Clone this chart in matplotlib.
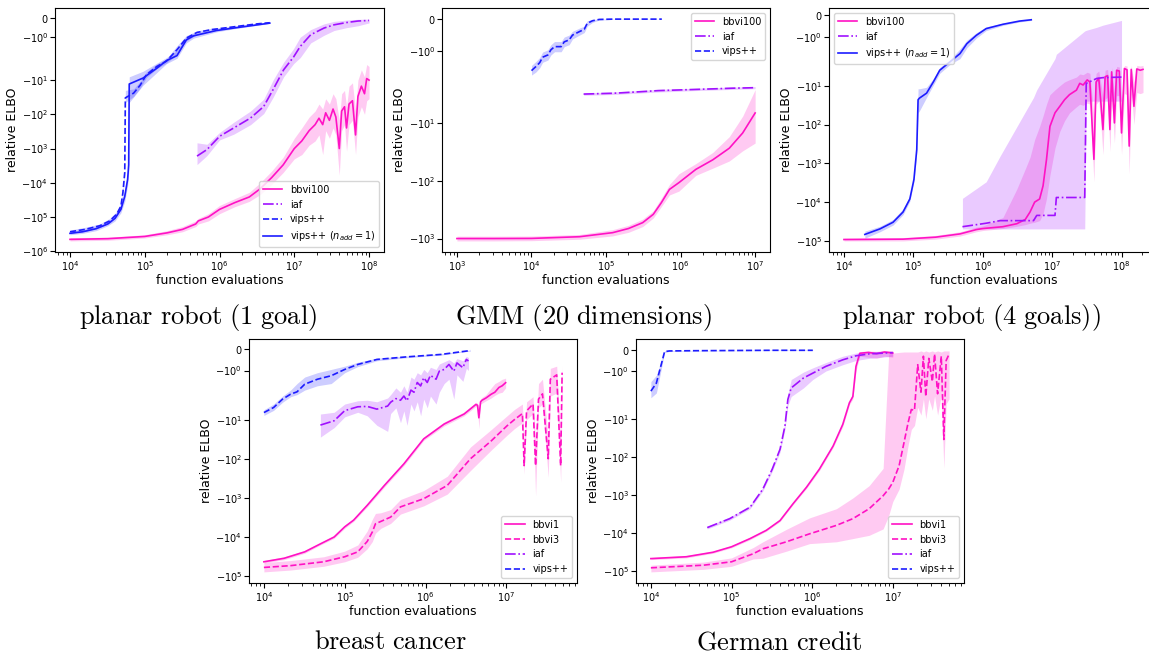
import matplotlib
matplotlib.use("Agg")
import matplotlib.pyplot as plt

PINK = "#ff12c4"
PURPLE = "#a010ff"
BLUE = "#1c1cff"

# ---------------- planar robot (1 goal) ----------------
r1_bbvi_x = [1.0e4, 3.2e4, 1.0e5, 2.0e5, 3.2e5, 4.8e5, 5.2e5, 7.1e5, 1.0e6, 1.6e6,
             2.5e6, 3.5e6, 5.0e6, 7.1e6, 1.0e7, 1.26e7, 1.58e7, 1.9e7, 2.14e7, 2.4e7,
             2.63e7, 2.95e7, 3.3e7, 3.6e7, 4.0e7, 4.3e7, 4.7e7, 5.0e7, 5.4e7, 6.0e7,
             6.6e7, 7.1e7, 7.9e7, 8.7e7, 9.3e7, 1.0e8]
r1_bbvi_mean = [-4.5e5, -4.3e5, -3.7e5, -2.9e5, -2.3e5, -1.6e5, -1.3e5, -1.0e5, -6.0e4, -3.8e4,
                -2.6e4, -1.5e4, -7.0e3, -3.0e3, -1.0e3, -600, -300, -200, -130, -200,
                -90, -150, -70, -120, -1000, -80, -60, -250, -50, -40,
                -400, -30, -15, -25, -9, -10]
r1_bbvi_lo = [-5.0e5, -4.8e5, -4.1e5, -3.3e5, -2.7e5, -1.9e5, -1.6e5, -1.3e5, -8.0e4, -5.0e4,
              -3.5e4, -2.2e4, -1.1e4, -5.0e3, -2.0e3, -1.5e3, -800, -600, -400, -1500,
              -300, -500, -250, -400, -6000, -300, -200, -1200, -200, -150,
              -1500, -120, -60, -100, -40, -35]
r1_bbvi_hi = [-4.0e5, -3.9e5, -3.3e5, -2.5e5, -1.9e5, -1.3e5, -1.1e5, -8.0e4, -4.6e4, -2.9e4,
              -1.9e4, -1.0e4, -4.5e3, -1.8e3, -500, -250, -120, -80, -50, -70,
              -35, -50, -25, -35, -150, -25, -20, -60, -15, -12,
              -80, -10, -5, -8, -3.5, -4]

r1_iaf_x = [5.0e5, 6.8e5, 1.0e6, 1.55e6, 2.6e6, 3.9e6, 5.2e6, 7.2e6, 9.8e6, 1.2e7,
            1.66e7, 2.5e7, 3.4e7, 5.0e7, 7.1e7, 1.0e8]
r1_iaf_mean = [-1660, -1070, -440, -250, -128, -59, -19, -5, -2.1, -1.49,
               -0.87, -0.52, -0.35, -0.23, -0.15, -0.12]
r1_iaf_lo = [-2950, -1600, -560, -380, -200, -95, -32, -8, -3.3, -2.2,
             -1.3, -0.9, -0.65, -0.5, -0.4, -0.25]
r1_iaf_hi = [-680, -750, -340, -170, -80, -36, -10, -3, -1.6, -1.0,
             -0.6, -0.3, -0.17, -0.1, -0.06, -0.05]

r1_vips_x = [1.0e4, 1.6e4, 2.5e4, 3.4e4, 4.2e4, 4.8e4, 5.1e4, 5.4e4, 5.5e4, 7.1e4,
             8.7e4, 1.05e5, 1.45e5, 1.95e5, 2.7e5, 3.6e5, 5.0e5, 7.9e5, 1.26e6, 2.0e6,
             3.2e6, 4.7e6]
r1_vips_mean = [-2.7e5, -2.3e5, -1.8e5, -1.3e5, -8.3e4, -4.8e4, -1.95e4, -5e3, -33, -24,
                -14, -7, -4, -2.8, -1.66, -1.05, -0.75, -0.6, -0.5, -0.4,
                -0.3, -0.24]
r1_vips_lo = [-3.0e5, -2.6e5, -2.0e5, -1.5e5, -9.5e4, -5.5e4, -2.3e4, -6e3, -45, -30,
              -17, -8.5, -4.6, -3.2, -1.9, -1.2, -0.85, -0.68, -0.56, -0.45,
              -0.34, -0.27]
r1_vips_hi = [-2.4e5, -2.0e5, -1.6e5, -1.1e5, -7.0e4, -4.0e4, -1.6e4, -4e3, -20, -18,
              -11, -5.8, -3.4, -2.4, -1.45, -0.92, -0.67, -0.53, -0.45, -0.36,
              -0.27, -0.21]

r1_vips1_x = [1.0e4, 1.48e4, 2.24e4, 3.2e4, 4.0e4, 4.8e4, 5.4e4, 5.9e4, 6.1e4, 6.2e4,
              9.5e4, 1.45e5, 1.95e5, 2.7e5, 3.6e5, 4.5e5, 9.1e5, 1.55e6, 2.6e6, 4.7e6]
r1_vips1_mean = [-3.0e5, -2.7e5, -2.2e5, -1.6e5, -1.1e5, -6e4, -2.5e4, -8e3, -3e3, -13,
                 -8.7, -4.5, -2.7, -1.97, -1.14, -0.93, -0.65, -0.52, -0.4, -0.26]
r1_vips1_lo = [-3.3e5, -3.0e5, -2.5e5, -1.8e5, -1.3e5, -7.5e4, -3.5e4, -1.2e4, -5e3, -45,
               -14, -6, -3.3, -2.3, -1.3, -1.05, -0.72, -0.56, -0.43, -0.28]
r1_vips1_hi = [-2.7e5, -2.4e5, -1.9e5, -1.4e5, -9e4, -4.5e4, -1.7e4, -5e3, -1.5e3, -8,
               -5.5, -3.2, -2.2, -1.7, -0.95, -0.8, -0.58, -0.48, -0.37, -0.24]

# ---------------- GMM (20 dimensions) ----------------
gmm_bbvi_x = [1.0e3, 3.2e3, 1.0e4, 4.4e4, 1.23e5, 2.0e5, 3.1e5, 4.3e5, 5.5e5, 7.1e5,
              9.5e5, 1.6e6, 2.7e6, 4.5e6, 6.8e6, 1.0e7]
gmm_bbvi_mean = [-1000, -1000, -995, -930, -790, -670, -530, -380, -240, -140,
                 -107, -63, -43, -27, -14.7, -6.6]
gmm_bbvi_lo = [-1100, -1100, -1090, -1030, -900, -780, -620, -440, -280, -175,
               -150, -80, -60, -45, -30, -22]
gmm_bbvi_hi = [-910, -910, -905, -850, -700, -590, -460, -330, -200, -115,
               -75, -50, -32, -17, -7.5, -2.6]

gmm_iaf_x = [5.0e4, 7.9e4, 1.26e5, 2.0e5, 3.2e5, 5.0e5, 7.9e5, 1.26e6, 2.0e6, 3.2e6,
             5.0e6, 7.9e6, 1.0e7]
gmm_iaf_mean = [-3.1, -3.05, -3.0, -2.9, -2.8, -2.7, -2.65, -2.6, -2.55, -2.5, -2.45, -2.42, -2.4]
gmm_iaf_lo = [-3.25, -3.2, -3.15, -3.05, -2.95, -2.85, -2.8, -2.72, -2.67, -2.62, -2.57, -2.53, -2.5]
gmm_iaf_hi = [-2.95, -2.9, -2.85, -2.75, -2.66, -2.57, -2.52, -2.48, -2.43, -2.39, -2.34, -2.31, -2.3]

gmm_vips_x = [1.0e4, 1.15e4, 1.29e4, 1.41e4, 1.66e4, 1.82e4, 2.04e4, 2.5e4, 2.75e4, 3.2e4,
              3.55e4, 4.4e4, 5.1e4, 5.6e4, 6.6e4, 8.1e4, 1.23e5, 5.6e5]
gmm_vips_mean = [-1.61, -1.48, -1.36, -1.19, -1.12, -0.96, -0.86, -0.86, -0.71, -0.65,
                 -0.50, -0.39, -0.32, -0.13, -0.05, -0.01, 0, 0]
gmm_vips_lo = [-1.75, -1.65, -1.52, -1.35, -1.28, -1.12, -1.02, -1.02, -0.86, -0.8,
               -0.62, -0.5, -0.42, -0.22, -0.1, -0.03, -0.01, -0.005]
gmm_vips_hi = [-1.45, -1.32, -1.2, -1.03, -0.96, -0.8, -0.7, -0.7, -0.56, -0.5,
               -0.38, -0.28, -0.22, -0.05, -0.01, 0, 0, 0]

# ---------------- planar robot (4 goals) ----------------
r4_bbvi_x = [1.0e4, 7.1e4, 2.1e5, 4.7e5, 8.1e5, 1.0e6, 1.95e6, 3.1e6, 4.1e6, 4.8e6,
             5.6e6, 6.6e6, 7.4e6, 8.3e6, 9.3e6, 1.1e7, 1.29e7, 1.51e7, 1.78e7, 2.24e7,
             2.5e7, 2.8e7, 3.2e7, 3.5e7, 4.0e7, 4.3e7, 4.7e7, 5.0e7, 5.4e7, 5.8e7,
             6.3e7, 6.8e7, 7.2e7, 7.9e7, 8.5e7, 9.3e7, 1.0e8, 1.1e8, 1.2e8, 1.29e8,
             1.38e8, 1.51e8, 1.66e8, 1.86e8, 2.04e8]
r4_bbvi_mean = [-9.2e4, -9.0e4, -8.0e4, -6.6e4, -5.1e4, -4.8e4, -4.3e4, -3.6e4, -2.8e4, -1.8e4,
                -1.0e4, -8.3e3, -3.8e3, -790, -112, -50, -34, -23, -17, -13,
                -8.7, -9.6, -7.1, -8, -790, -8, -6.5, -23, -135, -5.9,
                -5.5, -135, -4.4, -91, -4.0, -4.2, -165, -3.6, -3.9, -360,
                -3.8, -34, -3.7, -4.0, -3.8]
r4_bbvi_lo = [-1.0e5, -1.0e5, -9e4, -7.5e4, -5.8e4, -5.4e4, -4.8e4, -4.2e4, -3.8e4, -3.5e4,
              -3.3e4, -3.0e4, -2.0e4, -8e3, -2e3, -400, -150, -80, -50, -35,
              -30, -32, -28, -30, -3e3, -30, -25, -80, -600, -22,
              -20, -500, -20, -300, -18, -18, -600, -16, -17, -1.9e3,
              -16, -100, -15, -16, -15]
r4_bbvi_hi = [-8.5e4, -8.2e4, -7.2e4, -5.8e4, -4.4e4, -4.1e4, -2.5e4, -4.6e3, -1.4e3, -700,
              -245, -112, -60, -30, -17, -12.8, -10, -8, -7, -6,
              -5, -5.2, -4.5, -4.8, -60, -4.8, -4.2, -8, -20, -4,
              -3.8, -20, -3.4, -15, -3.2, -3.3, -25, -3, -3.1, -40,
              -3, -8, -3, -3.1, -3]

r4_iaf_x = [5.1e5, 1.12e6, 1.78e6, 5.4e6, 6.0e6, 1.1e7, 1.15e7, 2.95e7, 3.1e7, 4.4e7, 5.4e7, 1.0e8]
r4_iaf_mean = [-4.3e4, -3.5e4, -3.0e4, -3.0e4, -2.2e4, -2.2e4, -7.6e3, -7.6e3, -8.7, -6.5, -6.2, -6.0]
r4_iaf_lo = [-4.9e4, -4.9e4, -4.9e4, -4.9e4, -4.9e4, -4.9e4, -4.9e4, -4.9e4, -25, -25, -25, -25]
r4_iaf_hi = [-8e3, -3e3, -650, -20, -12.8, -2.0, -1.8, -0.72, -0.69, -0.55, -0.45, -0.23]

r4_vips1_x = [2.0e4, 3.3e4, 5.1e4, 7.1e4, 8.9e4, 1.02e5, 1.12e5, 1.17e5, 1.22e5, 1.55e5,
              1.95e5, 2.4e5, 3.4e5, 4.7e5, 5.9e5, 8.1e5, 1.12e6, 1.95e6, 3.4e6, 5.0e6]
r4_vips1_mean = [-6.8e4, -4.9e4, -3.3e4, -1.8e4, -8.3e3, -2.6e3, -440, -23, -21, -15.6,
                 -7.9, -4, -2.4, -1.77, -1.31, -0.92, -0.61, -0.41, -0.26, -0.2]
r4_vips1_lo = [-8.5e4, -5.8e4, -3.9e4, -2.1e4, -9.5e3, -3.0e3, -520, -50, -45, -20,
               -9.5, -4.8, -2.8, -2.0, -1.5, -1.05, -0.7, -0.46, -0.3, -0.23]
r4_vips1_hi = [-5.6e4, -4.2e4, -2.8e4, -1.5e4, -7.0e3, -2.2e3, -370, -12, -12, -11,
               -6.5, -3.4, -2.1, -1.55, -1.15, -0.8, -0.53, -0.36, -0.22, -0.17]

# ---------------- breast cancer ----------------
bc_bbvi1_x = [1.0e4, 1.78e4, 3.2e4, 5.0e4, 7.4e4, 1.0e5, 1.29e5, 1.9e5, 3.1e5, 5.4e5,
              9.5e5, 1.7e6, 3.0e6, 4.2e6, 4.4e6, 4.57e6, 4.8e6, 5.0e6, 5.6e6, 6.5e6,
              7.2e6, 8.1e6, 8.9e6, 9.8e6]
bc_bbvi1_mean = [-4.3e4, -3.5e4, -2.4e4, -1.5e4, -1.0e4, -5.5e3, -3.7e3, -1.55e3, -480, -135,
                 -31, -13, -7.2, -4.1, -4.3, -9, -3.5, -3.2, -2.8, -2.24,
                 -2.0, -1.78, -1.7, -1.56]
bc_bbvi1_lo = [-4.6e4, -3.8e4, -2.6e4, -1.6e4, -1.08e4, -6e3, -4e3, -1.7e3, -530, -150,
               -34, -14.5, -8, -4.6, -5, -17, -4, -3.8, -3.3, -2.8,
               -2.4, -2.1, -2.0, -1.8]
bc_bbvi1_hi = [-4.0e4, -3.2e4, -2.2e4, -1.4e4, -9.2e3, -5e3, -3.4e3, -1.4e3, -430, -120,
               -28, -11.5, -6.4, -3.6, -3.8, -5, -3.0, -2.7, -2.3, -1.8,
               -1.6, -1.5, -1.4, -1.35]

bc_bbvi3_x = [1.0e4, 2.14e4, 5.5e4, 1.0e5, 1.45e5, 1.9e5, 2.2e5, 2.4e5, 2.8e5, 3.7e5,
              4.9e5, 9.5e5, 1.86e6, 3.6e6, 6.5e6, 1.02e7, 1.26e7, 1.58e7, 1.66e7, 1.78e7,
              2.14e7, 2.3e7, 2.5e7, 2.8e7, 3.3e7, 3.5e7, 4.2e7, 4.7e7, 4.9e7]
bc_bbvi3_mean = [-6.0e4, -5.4e4, -4.3e4, -3.2e4, -2.4e4, -1.3e4, -7.4e3, -4.6e3, -4.0e3, -3.1e3,
                 -1.7e3, -1.05e3, -480, -100, -35, -14.4, -10, -7, -150, -6,
                 -4, -150, -3, -2.2, -100, -1.4, -1.2, -150, -1.1]
bc_bbvi3_lo = [-7.8e4, -7.0e4, -5.6e4, -4.3e4, -3.3e4, -2.0e4, -1.3e4, -8e3, -6e3, -4.5e3,
               -2.6e3, -1.6e3, -800, -200, -60, -25, -17, -12, -250, -10,
               -7, -900, -5, -4, -300, -2.5, -2.1, -400, -2.0]
bc_bbvi3_hi = [-4.5e4, -4.0e4, -3.2e4, -2.3e4, -1.6e4, -7e3, -3.5e3, -2.5e3, -2.4e3, -2.0e3,
               -1.1e3, -650, -280, -50, -18, -8, -5.5, -4, -40, -3.5,
               -2.6, -40, -1.6, -1.4, -30, -0.9, -0.8, -30, -0.75]

bc_iaf_x = [5.0e4, 7.4e4, 1.0e5, 1.45e5, 1.9e5, 2.5e5, 3.4e5, 3.7e5, 4.3e5, 4.9e5,
            5.4e5, 5.9e5, 6.6e5, 7.2e5, 7.9e5, 8.7e5, 9.5e5, 1.05e6, 1.15e6, 1.35e6,
            1.48e6, 1.7e6, 1.95e6, 2.24e6, 2.45e6, 2.9e6, 3.2e6, 3.4e6]
bc_iaf_mean = [-13.8, -10.7, -5.9, -4.7, -4.6, -5.4, -4.5, -3.6, -2.9, -3.2,
               -2.5, -3.3, -1.9, -2.0, -1.55, -1.71, -1.33, -1.55, -1.22, -1.4,
               -1.03, -0.95, -0.72, -1.03, -0.65, -0.87, -0.49, -0.56]
bc_iaf_lo = [-28, -16, -8.5, -6.5, -8, -14, -20, -7, -5, -12,
             -6, -14, -4, -6, -3.5, -8, -3, -5, -2.5, -4,
             -2, -1.6, -1.4, -3, -1.2, -1.5, -0.9, -1.0]
bc_iaf_hi = [-7.2, -6.5, -4, -3.3, -3.2, -3.5, -2.8, -2.3, -1.8, -2.0,
             -1.7, -2.0, -1.3, -1.4, -1.1, -1.2, -0.95, -1.1, -0.85, -0.95,
             -0.7, -0.6, -0.5, -0.65, -0.45, -0.55, -0.35, -0.4]

bc_vips_x = [1.0e4, 1.32e4, 1.7e4, 2.14e4, 2.57e4, 3.2e4, 4.6e4, 6.8e4, 1.0e5, 1.45e5,
             2.5e5, 5.9e5, 1.55e6, 3.6e6]
bc_vips_mean = [-6.6, -4.9, -3.0, -2.24, -1.98, -1.63, -1.4, -1.24, -0.95, -0.72,
                -0.49, -0.37, -0.26, -0.08]
bc_vips_lo = [-7.8, -5.8, -3.6, -2.6, -2.3, -1.9, -1.7, -1.6, -1.1, -0.82,
              -0.55, -0.41, -0.29, -0.1]
bc_vips_hi = [-5.6, -4.0, -2.5, -1.9, -1.6, -1.3, -1.1, -0.95, -0.8, -0.62,
              -0.43, -0.33, -0.23, -0.06]

# ---------------- German credit ----------------
gc_bbvi1_x = [1.0e4, 2.75e4, 5.9e4, 1.0e5, 1.7e5, 2.7e5, 4.0e5, 5.8e5, 8.5e5, 1.23e6,
              1.82e6, 2.4e6, 2.9e6, 3.2e6, 3.5e6, 3.9e6, 5.0e6, 6.3e6, 7.9e6, 1.0e7]
gc_bbvi1_mean = [-4.7e4, -4.2e4, -3.2e4, -2.3e4, -1.4e4, -8.5e3, -4.7e3, -1.7e3, -630, -210,
                 -52, -14, -3.8, -2.6, -0.78, -0.16, -0.12, -0.18, -0.1, -0.15]
gc_bbvi1_lo = [-5.0e4, -4.5e4, -3.4e4, -2.45e4, -1.5e4, -9e3, -5e3, -1.8e3, -680, -230,
               -57, -16, -4.3, -3.0, -1.0, -0.3, -0.35, -0.4, -0.3, -0.35]
gc_bbvi1_hi = [-4.4e4, -3.9e4, -3.0e4, -2.15e4, -1.3e4, -8e3, -4.4e3, -1.6e3, -580, -190,
               -47, -12, -3.3, -2.2, -0.6, -0.08, -0.05, -0.07, -0.04, -0.05]

gc_bbvi3_x = [1.0e4, 4.5e4, 1.0e5, 1.86e5, 2.45e5, 4.8e5, 9.3e5, 2.0e6, 3.2e6, 5.1e6,
              7.6e6, 8.9e6, 1.0e7, 1.2e7, 1.38e7, 1.55e7, 1.7e7, 1.86e7, 2.04e7, 2.24e7,
              2.4e7, 2.57e7, 2.8e7, 3.1e7, 3.3e7, 3.6e7, 4.0e7, 4.3e7, 4.6e7, 5.0e7]
gc_bbvi3_mean = [-8.2e4, -7.0e4, -5.7e4, -3.5e4, -2.6e4, -1.7e4, -1.05e4, -6.3e3, -4.2e3, -2.3e3,
                 -1.05e3, -700, -470, -170, -42, -12.7, -5.7, -6, -0.7, -2.0,
                 -0.3, -2.6, -0.4, -1.5, -0.2, -2.2, -0.3, -35, -0.5, -0.2]
gc_bbvi3_lo = [-1.05e5, -9.0e4, -7.5e4, -4.8e4, -4.6e4, -3.0e4, -1.9e4, -1.7e4, -1.4e4, -1.15e4,
               -7.8e3, -3.5e3, -1.5e3, -700, -210, -50, -19, -15, -5, -8,
               -3, -10, -3, -6, -2.5, -8, -2.5, -200, -4, -3]
gc_bbvi3_hi = [-7.0e4, -5.8e4, -4.5e4, -2.4e4, -1.7e4, -8e3, -4e3, -2.3e3, -1.2e3, -570,
               -200, -0.2, -0.15, -0.12, -0.1, -0.1, -0.1, -0.1, -0.1, -0.05,
               -0.1, -0.05, -0.1, -0.05, -0.1, -0.05, -0.1, -0.05, -0.05, -0.05]

gc_iaf_x = [5.0e4, 9.5e4, 1.7e5, 2.45e5, 3.2e5, 4.0e5, 4.6e5, 5.0e5, 5.5e5, 7.8e5,
            1.02e6, 1.48e6, 2.4e6, 3.5e6, 5.1e6, 1.0e7]
gc_iaf_mean = [-7.2e3, -4.2e3, -2.1e3, -700, -210, -63, -15.5, -3.1, -1.8, -1.33,
               -1.1, -0.78, -0.47, -0.28, -0.19, -0.13]
gc_iaf_lo = [-7.8e3, -4.6e3, -2.3e3, -780, -240, -75, -19, -4.5, -2.6, -1.8,
             -1.4, -1.0, -0.7, -0.5, -0.4, -0.3]
gc_iaf_hi = [-6.6e3, -3.8e3, -1.9e3, -630, -185, -53, -12.5, -2.3, -1.4, -1.05,
             -0.85, -0.6, -0.3, -0.15, -0.08, -0.06]

gc_vips_x = [1.0e4, 1.17e4, 1.48e4, 1.7e4, 3.2e4, 1.0e5, 3.2e5, 1.02e6]
gc_vips_mean = [-1.95, -1.57, -0.08, -0.05, -0.04, -0.03, -0.02, -0.02]
gc_vips_lo = [-2.8, -2.1, -0.12, -0.07, -0.05, -0.04, -0.03, -0.03]
gc_vips_hi = [-1.5, -1.2, -0.05, -0.03, -0.03, -0.02, -0.01, -0.01]


def setup(ax):
    # log x, symmetric log y (linear band of width 2 around zero)
    ax.set_xscale("log")
    ax.set_yscale("symlog", linthresh=2)
    ax.set_xlabel("function evaluations", fontsize=9, labelpad=1)
    ax.set_ylabel("relative ELBO", fontsize=9, labelpad=2)
    ax.tick_params(labelsize=7, pad=1.5)


def curve(ax, x, mean, lo, hi, color, ls, label, alpha=0.22):
    ax.fill_between(x, lo, hi, color=color, alpha=alpha, lw=0)
    ax.plot(x, mean, color=color, ls=ls, lw=1.2, label=label)


fig = plt.figure(figsize=(11.49, 6.58), dpi=100)

# top row
ax1 = fig.add_axes([0.0479, 0.617, 0.2863, 0.3708])
setup(ax1)
curve(ax1, r1_bbvi_x, r1_bbvi_mean, r1_bbvi_lo, r1_bbvi_hi, PINK, "-", "bbvi100")
curve(ax1, r1_iaf_x, r1_iaf_mean, r1_iaf_lo, r1_iaf_hi, PURPLE, "-.", "iaf")
curve(ax1, r1_vips_x, r1_vips_mean, r1_vips_lo, r1_vips_hi, BLUE, "--", "vips++")
curve(ax1, r1_vips1_x, r1_vips1_mean, r1_vips1_lo, r1_vips1_hi, BLUE, "-",
      r"vips++ ($n_{add}=1$)")
ax1.legend(loc="lower right", fontsize=7)

ax2 = fig.add_axes([0.3847, 0.617, 0.2855, 0.3708])
setup(ax2)
curve(ax2, gmm_bbvi_x, gmm_bbvi_mean, gmm_bbvi_lo, gmm_bbvi_hi, PINK, "-", "bbvi100")
curve(ax2, gmm_iaf_x, gmm_iaf_mean, gmm_iaf_lo, gmm_iaf_hi, PURPLE, "-.", "iaf")
curve(ax2, gmm_vips_x, gmm_vips_mean, gmm_vips_lo, gmm_vips_hi, BLUE, "--", "vips++")
ax2.legend(loc="upper right", fontsize=7)

ax3 = fig.add_axes([0.7215, 0.617, 0.2863, 0.3708])
setup(ax3)
curve(ax3, r4_bbvi_x, r4_bbvi_mean, r4_bbvi_lo, r4_bbvi_hi, PINK, "-", "bbvi100")
curve(ax3, r4_iaf_x, r4_iaf_mean, r4_iaf_lo, r4_iaf_hi, PURPLE, "-.", "iaf")
curve(ax3, r4_vips1_x, r4_vips1_mean, r4_vips1_lo, r4_vips1_hi, BLUE, "-",
      r"vips++ ($n_{add}=1$)")
ax3.legend(loc="upper left", fontsize=7)

# bottom row
ax4 = fig.add_axes([0.2167, 0.114, 0.2855, 0.3708])
setup(ax4)
curve(ax4, bc_bbvi1_x, bc_bbvi1_mean, bc_bbvi1_lo, bc_bbvi1_hi, PINK, "-", "bbvi1")
curve(ax4, bc_bbvi3_x, bc_bbvi3_mean, bc_bbvi3_lo, bc_bbvi3_hi, PINK, "--", "bbvi3")
curve(ax4, bc_iaf_x, bc_iaf_mean, bc_iaf_lo, bc_iaf_hi, PURPLE, "-.", "iaf")
curve(ax4, bc_vips_x, bc_vips_mean, bc_vips_lo, bc_vips_hi, BLUE, "--", "vips++")
ax4.legend(loc="lower right", fontsize=7)

ax5 = fig.add_axes([0.5535, 0.114, 0.2855, 0.3708])
setup(ax5)
curve(ax5, gc_bbvi1_x, gc_bbvi1_mean, gc_bbvi1_lo, gc_bbvi1_hi, PINK, "-", "bbvi1")
curve(ax5, gc_bbvi3_x, gc_bbvi3_mean, gc_bbvi3_lo, gc_bbvi3_hi, PINK, "--", "bbvi3")
curve(ax5, gc_iaf_x, gc_iaf_mean, gc_iaf_lo, gc_iaf_hi, PURPLE, "-.", "iaf")
curve(ax5, gc_vips_x, gc_vips_mean, gc_vips_lo, gc_vips_hi, BLUE, "--", "vips++")
ax5.legend(loc="lower right", fontsize=7)

# panel captions, in Computer Modern
captions = [
    (0.172, 0.518, r"$\mathrm{planar\ robot\ (1\ goal)}$"),
    (0.508, 0.518, r"$\mathrm{GMM\ (20\ dimensions)}$"),
    (0.845, 0.518, r"$\mathrm{planar\ robot\ (4\ goals))}$"),
    (0.340, 0.024, r"$\mathrm{breast\ cancer}$"),
    (0.678, 0.024, r"$\mathrm{German\ credit}$"),
]
for cx, cy, txt in captions:
    fig.text(cx, cy, txt, fontsize=19, ha="center", va="center", math_fontfamily="cm")

fig.savefig("out.png", dpi=100)
